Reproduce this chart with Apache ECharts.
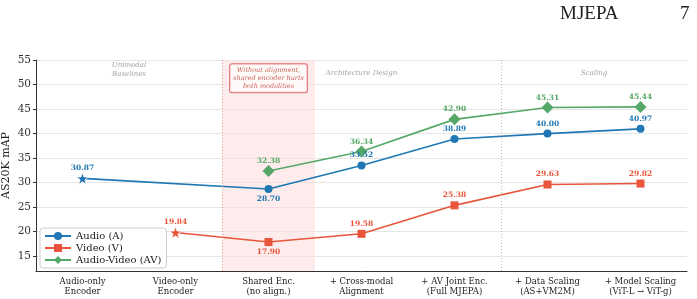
<!DOCTYPE html>
<html><head><meta charset="utf-8">
<script src="https://cdn.jsdelivr.net/npm/echarts@6/dist/echarts.min.js"></script>
<style>html,body{margin:0;padding:0;background:#fff}#c{width:697px;height:299px}</style>
</head><body><div id="c"></div>
<script>
const categories = ['Audio-only\nEncoder','Video-only\nEncoder','Shared Enc.\n(no align.)','+ Cross-modal\nAlignment','+ AV Joint Enc.\n(Full MJEPA)','+ Data Scaling\n(AS+VM2M)','+ Model Scaling\n(ViT-L → ViT-g)'];
const audio = [30.87, null, 28.70, 33.52, 38.89, 40.00, 40.97];
const video = [null, 19.84, 17.90, 19.58, 25.38, 29.63, 29.82];
const audioVideo = [null, null, 32.38, 36.34, 42.90, 45.31, 45.44];
const yTicks = [15, 20, 25, 30, 35, 40, 45, 50, 55];
const baselineIdx = {audio: 0, video: 1};
const belowIdx = 2; // labels under the points for the shared-encoder stage

const C_A = '#1f77b4', C_V = '#e8553b', C_AV = '#55a868';
const FONT = 'DejaVu Serif';
const STAR = 'path://M0,-10L2.35,-3.24L9.51,-3.09L3.8,1.24L5.88,8.09L0,4.2L-5.88,8.09L-3.8,1.24L-9.51,-3.09L-2.35,-3.24Z';

function mk(arr, starIdx, below) {
  return arr.map((v, i) => {
    if (v == null) return null;
    const o = {value: v};
    if (i === starIdx) { o.symbol = STAR; o.symbolSize = 12; o.itemStyle = {borderColor: '#fff', borderWidth: 0.8}; }
    if (below && i === belowIdx) o.label = {offset: [0, 10]};
    return o;
  });
}
function lbl(color) {
  return {show: true, position: 'inside', offset: [0, -10], color: color, fontFamily: FONT, fontWeight: 'bold', fontSize: 7.5, formatter: p => p.value.toFixed(2)};
}

const chart = echarts.init(document.getElementById('c'), null, {renderer: 'canvas'});
const sharedIdx = 2, scaleSplit = 4.5;
const notes = [
  {x: 0.5, y: 53.1, text: 'Unimodal\nBaselines'},
  {x: 3, y: 52.3, text: 'Architecture Design'},
  {x: 5.5, y: 52.3, text: 'Scaling'}
];
chart.setOption({
  animation: false,
  textStyle: {fontFamily: FONT},
  graphic: [
    {type: 'text', left: 560, top: 5, style: {text: 'MJEPA', font: '19px "Liberation Serif"', fill: '#222'}},
    {type: 'text', left: 680, top: 5, style: {text: '7', font: '19px "Liberation Serif"', fill: '#222'}}
  ],
  grid: {left: 36, right: 10, top: 60, bottom: 28, outerBoundsMode: 'none', containLabel: false},
  legend: {
    left: 40, top: 228, orient: 'vertical', itemGap: 2, itemWidth: 26, itemHeight: 10,
    backgroundColor: 'rgba(255,255,255,0.85)', borderColor: '#ccc', borderWidth: 1, borderRadius: 3, padding: [3, 5, 3, 4],
    textStyle: {fontFamily: FONT, fontSize: 10, color: '#222'},
    data: ['Audio (A)', 'Video (V)', 'Audio-Video (AV)']
  },
  xAxis: [
    {type: 'category', data: categories, boundaryGap: true,
     axisLine: {lineStyle: {color: '#333', width: 1}},
     axisTick: {alignWithLabel: true, length: 3, lineStyle: {color: '#333'}},
     axisLabel: {fontFamily: FONT, fontSize: 8.5, color: '#222', lineHeight: 10, margin: 6, interval: 0},
     splitLine: {show: false}},
    {type: 'value', min: -0.5, max: 6.5, show: false}
  ],
  yAxis: {
    type: 'value', min: 12, max: 55,
    name: 'AS20K mAP', nameLocation: 'middle', nameGap: 24, nameMoveOverlap: false,
    nameTextStyle: {fontFamily: FONT, fontSize: 11, color: '#222'},
    axisLine: {show: true, onZero: false, lineStyle: {color: '#333'}},
    axisTick: {show: true, length: 3, customValues: yTicks, lineStyle: {color: '#333'}},
    axisLabel: {fontFamily: FONT, fontSize: 10.5, color: '#333', customValues: yTicks, margin: 5},
    splitLine: {show: true, lineStyle: {color: '#e6e6e6', width: 1}}
  },
  series: [
    {name: 'Audio (A)', type: 'line', data: mk(audio, baselineIdx.audio, true), connectNulls: true,
     color: C_A, lineStyle: {width: 1.6}, symbol: 'circle', symbolSize: 8, label: lbl(C_A), z: 3},
    {name: 'Video (V)', type: 'line', data: mk(video, baselineIdx.video, true), connectNulls: true,
     color: C_V, lineStyle: {width: 1.6}, symbol: 'rect', symbolSize: 8, label: lbl(C_V), z: 3},
    {name: 'Audio-Video (AV)', type: 'line', data: mk(audioVideo, -1, false), connectNulls: true,
     color: C_AV, lineStyle: {width: 1.6}, symbol: 'diamond', symbolSize: 12, label: lbl(C_AV), z: 3},
    {type: 'scatter', xAxisIndex: 1, symbolSize: 0, silent: true, z: 1,
     data: notes.map(n => ({value: [n.x, n.y], label: {formatter: n.text}})),
     label: {show: true, position: 'inside', fontFamily: FONT, fontStyle: 'italic', fontSize: 7, color: '#888', lineHeight: 9},
     markArea: {silent: true, itemStyle: {color: 'rgba(253,215,215,0.5)'},
       data: [[{xAxis: sharedIdx - 0.5}, {xAxis: sharedIdx + 0.5}]]},
     markLine: {silent: true, symbol: 'none', label: {show: false},
       data: [
         {xAxis: sharedIdx - 0.5, lineStyle: {color: '#e8a0a0', type: [1, 2], width: 1}},
         {xAxis: scaleSplit, lineStyle: {color: '#bbb', type: [1, 2], width: 1}}
       ]}},
    {type: 'scatter', xAxisIndex: 1, symbolSize: 0, silent: true, z: 5,
     data: [[sharedIdx, 51.3]],
     label: {show: true, position: 'inside', formatter: 'Without alignment,\nshared encoder hurts\nboth modalities',
       fontFamily: FONT, fontStyle: 'italic', fontSize: 6.5, color: '#c0392b', lineHeight: 8,
       backgroundColor: '#fff', borderColor: '#d9534f', borderWidth: 1, borderRadius: 2, padding: [2, 3]}}
  ]
});
</script></body></html>
